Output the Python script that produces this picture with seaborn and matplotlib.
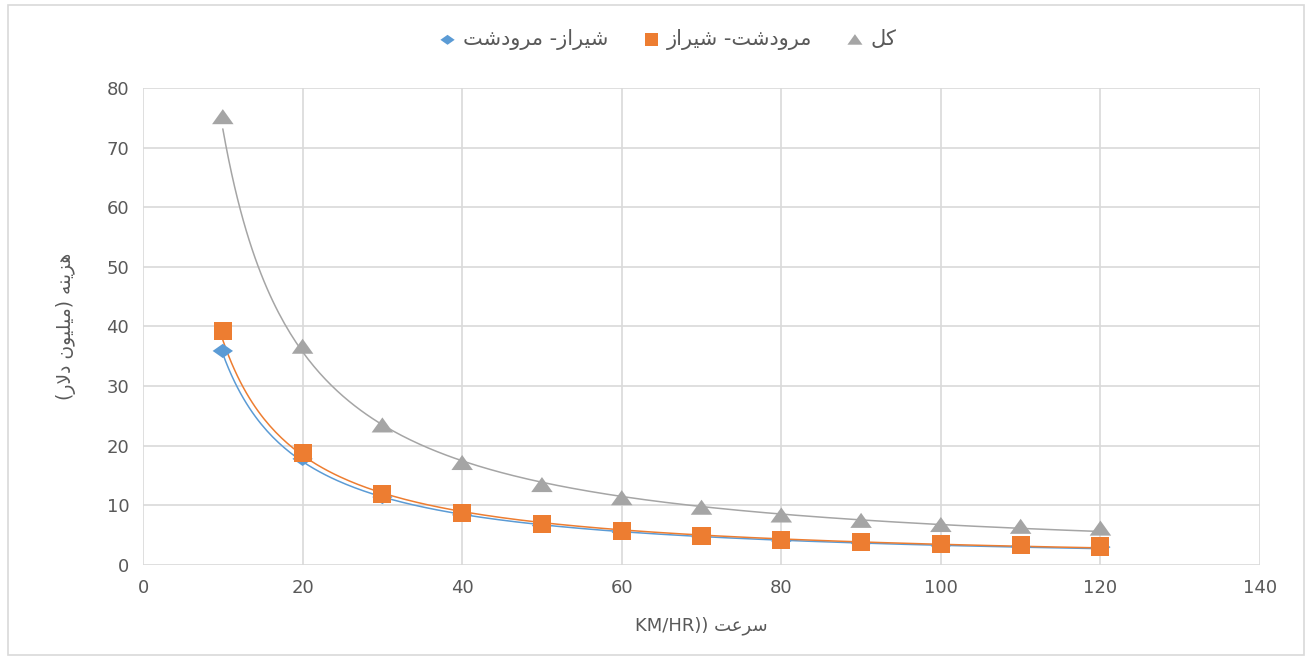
import numpy as np
import pandas as pd
import matplotlib
matplotlib.use("Agg")
import matplotlib.pyplot as plt
from matplotlib.patches import Rectangle
import seaborn as sns

# Travel cost (million dollars) against speed (km/h)
speed = [10, 20, 30, 40, 50, 60, 70, 80, 90, 100, 110, 120]
cost_shiraz_marvdasht = [35.9, 17.8, 11.4, 8.4, 6.6, 5.5, 4.7, 4.0, 3.6, 3.2, 3.1, 3.0]
cost_marvdasht_shiraz = [39.2, 18.8, 11.9, 8.7, 6.9, 5.7, 4.9, 4.2, 3.8, 3.5, 3.3, 3.1]
cost_total = [75.1, 36.6, 23.4, 17.1, 13.4, 11.2, 9.6, 8.3, 7.4, 6.7, 6.4, 6.1]

name_shiraz_marvdasht = "شیراز- مرودشت"
name_marvdasht_shiraz = "مرودشت- شیراز"
name_total = "کل"
y_title = "هزینه (میلیون دلار)"
x_title_word = "سرعت"
x_title_unit = "KM/HR))"

x_ticks = [0, 20, 40, 60, 80, 100, 120, 140]
y_ticks = [0, 10, 20, 30, 40, 50, 60, 70, 80]

# --- minimal Persian shaping so matplotlib draws joined, right-to-left glyphs ---
FORMS = {  # isolated, final, initial, medial
    "ا": ("\uFE8D", "\uFE8E", None, None),
    "ب": ("\uFE8F", "\uFE90", "\uFE91", "\uFE92"),
    "ت": ("\uFE95", "\uFE96", "\uFE97", "\uFE98"),
    "د": ("\uFEA9", "\uFEAA", None, None),
    "ر": ("\uFEAD", "\uFEAE", None, None),
    "ز": ("\uFEAF", "\uFEB0", None, None),
    "س": ("\uFEB1", "\uFEB2", "\uFEB3", "\uFEB4"),
    "ش": ("\uFEB5", "\uFEB6", "\uFEB7", "\uFEB8"),
    "ع": ("\uFEC9", "\uFECA", "\uFECB", "\uFECC"),
    "ل": ("\uFEDD", "\uFEDE", "\uFEDF", "\uFEE0"),
    "م": ("\uFEE1", "\uFEE2", "\uFEE3", "\uFEE4"),
    "ن": ("\uFEE5", "\uFEE6", "\uFEE7", "\uFEE8"),
    "ه": ("\uFEE9", "\uFEEA", "\uFEEB", "\uFEEC"),
    "و": ("\uFEED", "\uFEEE", None, None),
    "ی": ("\uFBFC", "\uFBFD", "\uFBFE", "\uFBFF"),
    "ک": ("\uFB8E", "\uFB8F", "\uFB90", "\uFB91"),
    "لا": ("\uFEFB", "\uFEFC", None, None),
}
MIRROR = {"(": ")", ")": "("}


def _joins_left(unit):
    return unit in FORMS and FORMS[unit][2] is not None


def persian(text):
    units = []
    i = 0
    while i < len(text):
        if text[i] == "ل" and i + 1 < len(text) and text[i + 1] == "ا":
            units.append("لا")
            i += 2
        else:
            units.append(text[i])
            i += 1
    shaped = []
    for k, u in enumerate(units):
        if u not in FORMS:
            shaped.append(MIRROR.get(u, u))
            continue
        prev_j = k > 0 and _joins_left(units[k - 1])
        next_j = _joins_left(u) and k + 1 < len(units) and units[k + 1] in FORMS
        iso, fin, ini, med = FORMS[u]
        if prev_j and next_j:
            shaped.append(med)
        elif prev_j:
            shaped.append(fin)
        elif next_j:
            shaped.append(ini)
        else:
            shaped.append(iso)
    return "".join(reversed(shaped))


sns.set_theme(style="whitegrid")
plt.rcParams["font.family"] = ["DejaVu Sans"]

fig = plt.figure(figsize=(13.11, 6.63), dpi=100)
ax = fig.add_axes([0.1091, 0.1478, 0.852, 0.7195])

blue = "#5B9BD5"
orange = "#ED7D31"
gray = "#A5A5A5"

diamond = [(-1, 0), (0, 0.7), (1, 0), (0, -0.7)]
triangle = [(0, 0.75), (-1, -0.65), (1, -0.65)]

series = [
    (name_shiraz_marvdasht, cost_shiraz_marvdasht, blue, diamond, 215),
    (name_marvdasht_shiraz, cost_marvdasht_shiraz, orange, "s", 170),
    (name_total, cost_total, gray, triangle, 240),
]

x_fit = np.linspace(min(speed), max(speed), 300)
for name, vals, color, marker, size in series:
    # power trendline y = a * x^b fitted in log space
    b, log_a = np.polyfit(np.log(speed), np.log(vals), 1)
    trend = pd.DataFrame({"x": x_fit, "y": np.exp(log_a) * x_fit ** b})
    sns.lineplot(data=trend, x="x", y="y", ax=ax, color=color, lw=1.1,
                 legend=False, zorder=2)

for name, vals, color, marker, size in series:
    df = pd.DataFrame({"x": speed, "y": vals})
    sns.scatterplot(data=df, x="x", y="y", ax=ax, color=color, marker=marker,
                    s=size, edgecolor="none", label=persian(name), zorder=3)

ax.set_xlim(0, 140)
ax.set_ylim(0, 80)
ax.set_xticks(x_ticks)
ax.set_yticks(y_ticks)
ax.grid(True, color="#D9D9D9", lw=1.2)
for s in ax.spines.values():
    s.set_visible(False)
ax.tick_params(axis="both", colors="#595959", labelsize=13, length=0, pad=10)

ax.set_xlabel(x_title_unit + " " + persian(x_title_word), fontsize=13,
              color="#595959", labelpad=14)
ax.set_ylabel(persian(y_title), fontsize=13.5, color="#595959", labelpad=22)

ax.legend(loc="center", bbox_to_anchor=(0.509, 0.94), bbox_transform=fig.transFigure,
          ncol=3, frameon=False, fontsize=15, handletextpad=0.3, handlelength=0.9,
          columnspacing=1.6, labelcolor="#595959", markerscale=0.7,
          markerfirst=True)

fig.add_artist(Rectangle((0.006, 0.012), 0.989, 0.98, transform=fig.transFigure,
                         fill=False, edgecolor="#D9D9D9", lw=1.2))

fig.savefig("out.png", dpi=100, facecolor="white")
